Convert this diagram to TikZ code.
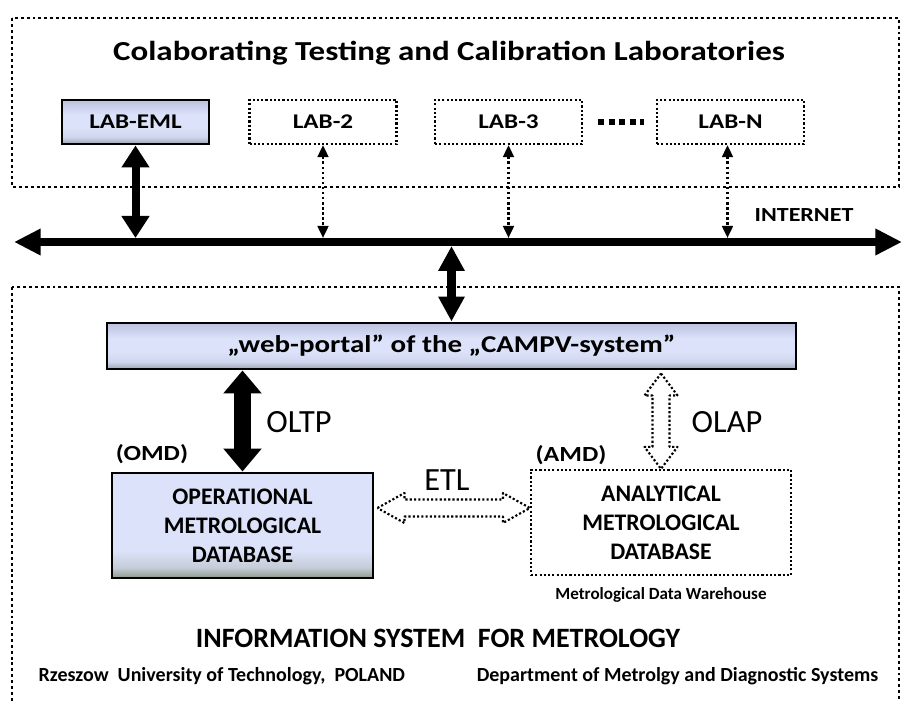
\documentclass[tikz,border=0pt]{standalone}
\usepackage{fontspec}
\setmainfont{Carlito}
\newfontfamily\widefont{Carlito}[FakeStretch=1.2]
\usetikzlibrary{arrows.meta,calc}
\definecolor{bluetop}{HTML}{BCC2DE}
\definecolor{bluemid}{HTML}{DCE2FA}
\definecolor{bluebot}{HTML}{A0A6B6}
\definecolor{greenbot}{HTML}{8E9B8A}
\pgfdeclareverticalshading{portalshade}{100bp}{color(0bp)=(bluebot); color(25bp)=(bluebot); color(33bp)=(bluemid!80!bluebot); color(44bp)=(bluemid); color(58bp)=(bluemid); color(75bp)=(bluetop); color(100bp)=(bluetop)}
\pgfdeclareverticalshading{omdshade}{100bp}{color(0bp)=(greenbot); color(25bp)=(greenbot); color(30bp)=(bluemid!70!greenbot); color(38bp)=(bluemid); color(100bp)=(bluemid)}
\begin{document}
\begin{tikzpicture}[x=0.75pt,y=-0.75pt,
  frame/.style={line width=2.2pt, dash pattern=on 2.2pt off 2.2pt},
  solidbox/.style={draw, line width=2.2pt, shading=portalshade, inner sep=0pt},
  dbbox/.style={draw, line width=2.2pt, shading=omdshade, inner sep=0pt},
  dotbox/.style={draw, line width=1.6pt, dash pattern=on 1.6pt off 1.6pt, inner sep=0pt},
  labsize/.style={minimum width=110.25pt, minimum height=33pt},
  labtext/.style={font=\widefont\bfseries\fontsize{15.7}{18}\selectfont},
  dbtext/.style={font=\bfseries\fontsize{17.8}{21.75}\selectfont, align=center},
  optext/.style={font=\fontsize{24.3}{28}\selectfont},
  tagtext/.style={font=\widefont\bfseries\fontsize{16.2}{19}\selectfont},
  dotarrow/.style={line width=1.9pt, dash pattern=on 1.9pt off 1.9pt,
     {Triangle[width=8pt,length=9pt]}-{Triangle[width=8pt,length=9pt]}},
  hollow/.style={line width=1.6pt, dash pattern=on 1.6pt off 1.6pt, line join=round}
]
\useasboundingbox (0,0) rectangle (904,702);
\clip (0,0) rectangle (904,702);

% frames
\draw[frame] (12,18) rectangle (899,187);
\draw[frame] (12,287) rectangle (899,730);

% title
\node[anchor=base, font=\widefont\bfseries\fontsize{20.6}{24}\selectfont] (title) at (449,61) {Colaborating Testing and Calibration Laboratories};

% labs
\node[solidbox, labsize, labtext] (labeml) at (135.5,122) {LAB-EML};
\node[dotbox, labsize, labtext] (lab2) at (323,122) {LAB-2};
\node[dotbox, labsize, labtext] (lab3) at (508.5,122) {LAB-3};
\node[dotbox, labsize, labtext] (labn) at (730.5,122) {LAB-N};
\draw[line width=4.5pt, dash pattern=on 4.5pt off 3.375pt] ($(lab3.east)+(15,0)$) -- ($(labn.west)+(-12,0)$);

% bus
\coordinate (busL) at (14,242);
\coordinate (busR) at (902,242);
\coordinate (busTop) at (0,238);
\coordinate (busBot) at (0,246);
\draw[line width=6pt, {Triangle[width=18.75pt,length=20pt]}-{Triangle[width=18.75pt,length=20pt]}] (busL) -- (busR);
\node[anchor=base, font=\widefont\bfseries\fontsize{15}{18}\selectfont] (internet) at (804,222) {INTERNET};

% lab connectors
\draw[line width=6pt, {Triangle[width=20pt,length=16.5pt]}-{Triangle[width=20pt,length=16.5pt]}] (labeml.south) -- (labeml.south |- busTop);
\draw[dotarrow] (lab2.south) -- (lab2.south |- busTop);
\draw[dotarrow] (lab3.south) -- (lab3.south |- busTop);
\draw[dotarrow] ([xshift=-2.25pt]labn.south) -- ([xshift=-2.25pt]labn.south |- busTop);

% portal
\node[solidbox, minimum width=516.75pt, minimum height=34.5pt, font=\widefont\bfseries\fontsize{18.1}{21}\selectfont] (portal) at (451.5,346) {„web-portal” of the „CAMPV-system”};
\draw[line width=6.75pt, {Triangle[width=18.75pt,length=18.75pt]}-{Triangle[width=18.75pt,length=18.75pt]}] (portal.north |- busBot) -- (portal.north);

% databases
\node[dbbox, minimum width=195.75pt, minimum height=78.75pt, dbtext] (omd) at (242.5,525.5) {OPERATIONAL\\METROLOGICAL\\DATABASE};
\node[dotbox, minimum width=195pt, minimum height=78.75pt, dbtext] (amd) at (661,522.5) {ANALYTICAL\\METROLOGICAL\\DATABASE};

\node[anchor=base, tagtext] (omdtag) at (152,460) {(OMD)};
\node[anchor=base, tagtext] (amdtag) at (571,462) {(AMD)};

% OLTP
\draw[line width=12.75pt, {Triangle[width=27.75pt,length=17.25pt]}-{Triangle[width=27.75pt,length=17.25pt]}] (omd.north |- portal.south) -- (omd.north);
\node[anchor=base, optext] (oltp) at (299,433) {OLTP};

% OLAP hollow arrow
\coordinate (olapT) at ($(amd.north |- portal.south)+(0,3)$);
\coordinate (olapB) at (amd.north);
\draw[hollow] (olapT) -- ($(olapT)+(16.5,22)$) -- ($(olapT)+(8.5,22)$) -- ($(olapB)+(8.5,-22)$) -- ($(olapB)+(16.5,-22)$) -- (olapB) -- ($(olapB)+(-16.5,-22)$) -- ($(olapB)+(-8.5,-22)$) -- ($(olapT)+(-8.5,22)$) -- ($(olapT)+(-16.5,22)$) -- cycle;
\node[anchor=base, optext] (olap) at (727,433) {OLAP};

% ETL hollow arrow
\coordinate (etly) at (0,508);
\coordinate (etlL) at ($(omd.east |- etly)+(3,0)$);
\coordinate (etlR) at (amd.west |- etly);
\draw[hollow] (etlL) -- ($(etlL)+(27,-15)$) -- ($(etlL)+(27,-8.5)$) -- ($(etlR)+(-27,-8.5)$) -- ($(etlR)+(-27,-15)$) -- (etlR) -- ($(etlR)+(-27,15)$) -- ($(etlR)+(-27,8.5)$) -- ($(etlL)+(27,8.5)$) -- ($(etlL)+(27,15)$) -- cycle;
\node[anchor=base, optext] (etl) at (447,490) {ETL};

% bottom texts
\node[font=\bfseries\fontsize{12.8}{15}\selectfont] (mdw) at (661,595) {Metrological Data Warehouse};
\node[font=\bfseries\fontsize{21}{25}\selectfont] (isfm) at (438,638) {INFORMATION SYSTEM\ \ FOR METROLOGY};
\node[anchor=west, font=\bfseries\fontsize{15}{18}\selectfont] (rut) at (34,676) {Rzeszow\ \ University of Technology,\ \ POLAND};
\node[anchor=east, font=\bfseries\fontsize{15}{18}\selectfont] (dept) at (883,676) {Department of Metrolgy and Diagnostic Systems};
\end{tikzpicture}
\end{document}
